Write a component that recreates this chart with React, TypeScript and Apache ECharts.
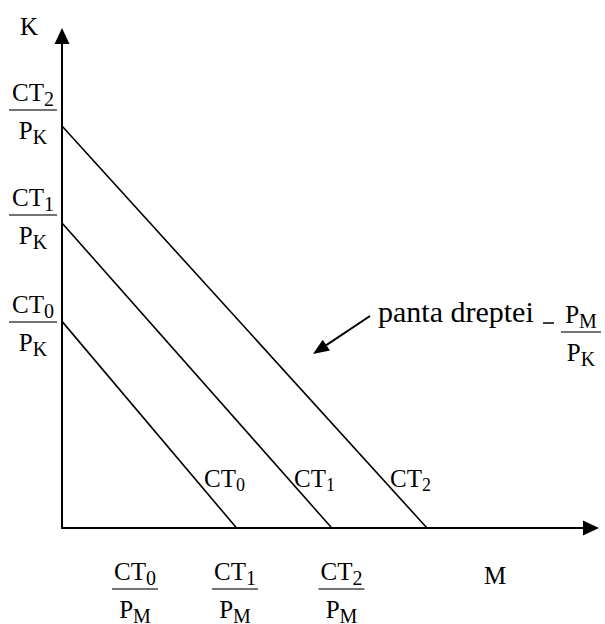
import React, { useEffect, useRef } from 'react';
import * as echarts from 'echarts';

// Budget (isocost) lines: K-intercept = CT/PK, M-intercept = CT/PM
const budgetNames = ['CT0', 'CT1', 'CT2'];
const budgetSubs = ['0', '1', '2'];
const kIntercepts = [4.2, 6.2, 8.17];
const mIntercepts = [3.3, 5.1, 6.9];
const axisMax = [10, 10]; // [M, K]

const SERIF = 'Liberation Serif';
const C = 0.3375; // central baseline offset (em) above alphabetic

let measureCtx: CanvasRenderingContext2D | null = null;
function tw(s: string, size: number) {
  if (!measureCtx) measureCtx = document.createElement('canvas').getContext('2d');
  measureCtx!.font = `${size}px "Liberation Serif"`;
  return measureCtx!.measureText(s).width;
}

function txt(left: number, baseline: number, s: string, size: number) {
  return {
    type: 'text',
    x: left,
    y: baseline - C * size,
    style: { text: s, fontSize: size, fontFamily: SERIF, fill: '#000', align: 'left', verticalAlign: 'middle' },
    silent: true,
  };
}

function subText(left: number, baseline: number, base: string, sub: string, size: number, subSize: number, drop: number) {
  const w = tw(base, size);
  return [txt(left, baseline, base, size), txt(left + w, baseline + drop, sub, subSize)];
}

function subWidth(base: string, sub: string, size: number, subSize: number) {
  return tw(base, size) + tw(sub, subSize);
}

function frac(cx: number, barY: number, nb: string, ns: string, db: string, ds: string, barW: number) {
  const size = 25, sub = 20;
  const nw = subWidth(nb, ns, size, sub);
  const dw = subWidth(db, ds, size, sub);
  return [
    ...subText(cx - nw / 2, barY - 9, nb, ns, size, sub, 5),
    ...subText(cx - dw / 2, barY + 29, db, ds, size, sub, 5),
    {
      type: 'line',
      shape: { x1: cx - barW / 2, y1: barY, x2: cx + barW / 2, y2: barY },
      style: { stroke: '#444', lineWidth: 1.3 },
      silent: true,
    },
  ];
}

function arrow(x1: number, y1: number, tx: number, ty: number, len: number, half: number) {
  const dx = tx - x1, dy = ty - y1;
  const L = Math.hypot(dx, dy);
  const ux = dx / L, uy = dy / L;
  const bx = tx - ux * len, by = ty - uy * len;
  const nx = -uy, ny = ux;
  return [
    { type: 'line', shape: { x1, y1, x2: bx, y2: by }, style: { stroke: '#000', lineWidth: 2 }, silent: true },
    {
      type: 'polygon',
      shape: { points: [[tx, ty], [bx + nx * half, by + ny * half], [bx - nx * half, by - ny * half]] },
      style: { fill: '#000' },
      silent: true,
    },
  ];
}

export default function App() {
  const ref = useRef<HTMLDivElement>(null);
  useEffect(() => {
    document.body.style.margin = '0';
    const chart = echarts.init(ref.current!, null, { renderer: 'svg' });

    const yFracBars = [322, 215, 110];
    const xFracCenters = [135, 235, 341.5];

    const graphics: any[] = [];
    // axis names
    graphics.push(txt(20, 35, 'K', 25));
    graphics.push(txt(484, 584, 'M', 25));
    // axis fractions CT/PK and CT/PM
    budgetNames.forEach((_, i) => {
      graphics.push(...frac(33, yFracBars[i], 'CT', budgetSubs[i], 'P', 'K', 48));
      graphics.push(...frac(xFracCenters[i], 589, 'CT', budgetSubs[i], 'P', 'M', 46));
    });
    // line labels
    const lineLabelLeft = [204, 294, 390];
    budgetNames.forEach((_, i) => {
      graphics.push(...subText(lineLabelLeft[i], 487, 'CT', budgetSubs[i], 25, 18, 4));
    });
    // slope annotation
    graphics.push(txt(378, 322, 'panta dreptei', 30));
    graphics.push({
      type: 'line',
      shape: { x1: 543, y1: 323, x2: 554, y2: 323 },
      style: { stroke: '#000', lineWidth: 1.5 },
      silent: true,
    });
    graphics.push(...frac(581, 332, 'P', 'M', 'P', 'K', 40));
    graphics.push(...arrow(370, 316, 313, 354, 16, 6.5));

    const axisCommon = {
      type: 'value',
      min: 0,
      axisLine: {
        show: true,
        onZero: false,
        symbol: ['none', 'triangle'],
        symbolSize: [15, 16],
        lineStyle: { color: '#000', width: 2 },
      },
      axisTick: { show: false },
      axisLabel: { show: false },
      splitLine: { show: false },
    };

    chart.setOption({
      animation: false,
      backgroundColor: '#fff',
      grid: { left: 62, top: 36, width: 529, height: 492 },
      xAxis: { ...axisCommon, max: axisMax[0] },
      yAxis: { ...axisCommon, max: axisMax[1] },
      series: budgetNames.map((name, i) => ({
        name,
        type: 'line',
        data: [[0, kIntercepts[i]], [mIntercepts[i], 0]],
        symbol: 'none',
        lineStyle: { color: '#000', width: 1.6 },
        silent: true,
      })),
      graphic: graphics,
    });
    return () => chart.dispose();
  }, []);
  return <div ref={ref} style={{ width: 605, height: 624 }} />;
}
